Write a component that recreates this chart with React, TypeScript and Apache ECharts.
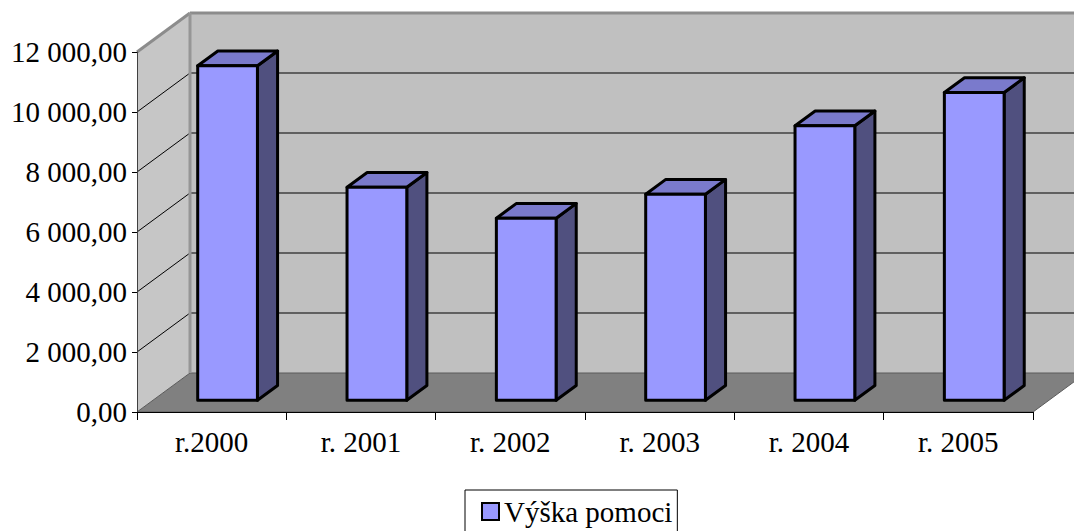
import React, { useEffect, useRef } from "react";
import * as echarts from "echarts";

const categories = ["r.2000", "r. 2001", "r. 2002", "r. 2003", "r. 2004", "r. 2005"];
const values = [11150, 7100, 6070, 6870, 9150, 10260];
const yTicks = [0, 2000, 4000, 6000, 8000, 10000, 12000];
const seriesName = "Výška pomoci";

const DX = 53;
const DY = -39;
const FONT = "Liberation Serif";

function fmt(v: number): string {
  const s = Math.round(v).toString();
  let out = "";
  for (let i = 0; i < s.length; i++) {
    const fromRight = s.length - i;
    out += s[i];
    if (fromRight > 1 && (fromRight - 1) % 3 === 0) out += " ";
  }
  return out + ",00";
}

export default function App() {
  const ref = useRef<HTMLDivElement>(null);
  useEffect(() => {
    document.body.style.margin = "0";
    document.body.style.background = "#ffffff";
    const chart = echarts.init(ref.current!, null, { renderer: "svg" });
    const yMax = yTicks[yTicks.length - 1];
    chart.setOption({
      animation: false,
      backgroundColor: "#ffffff",
      textStyle: { fontFamily: FONT },
      grid: { left: 137, top: 52, width: 896, height: 360 },
      legend: {
        left: 465,
        top: 490,
        padding: [7, 5, 7, 16],
        borderColor: "#000",
        borderWidth: 1,
        itemWidth: 17,
        itemHeight: 17,
        textStyle: { fontFamily: FONT, fontSize: 29, color: "#000" },
        data: [
          {
            name: seriesName,
            icon: "rect",
            itemStyle: { color: "#9999ff", borderColor: "#000", borderWidth: 2 },
          },
        ],
      },
      xAxis: {
        type: "category",
        data: categories,
        z: 5,
        axisLine: { show: true, lineStyle: { color: "#000", width: 1 } },
        axisTick: { show: true, length: 8, lineStyle: { color: "#000" } },
        axisLabel: { fontFamily: FONT, fontSize: 29, color: "#000", margin: 15 },
        splitLine: { show: false },
      },
      yAxis: {
        type: "value",
        min: 0,
        max: yMax,
        interval: 2000,
        z: 5,
        axisLine: { show: true, lineStyle: { color: "#404040", width: 1 } },
        axisTick: { show: true, length: 5, lineStyle: { color: "#000" } },
        axisLabel: {
          fontFamily: FONT,
          fontSize: 29,
          color: "#000",
          margin: 10,
          formatter: (v: number) => fmt(v),
        },
        splitLine: { show: false },
      },
      series: [
        {
          type: "custom",
          name: "walls",
          z: 1,
          clip: false,
          silent: true,
          data: [[0, 0]],
          encode: { x: 0, y: 1 },
          renderItem: (params: any, api: any) => {
            const cs = params.coordSys;
            const gx = cs.x, gy = cs.y, gw = cs.width, gh = cs.height;
            const children: any[] = [];
            children.push({
              type: "rect",
              shape: { x: gx + DX, y: gy + DY, width: gw + 10, height: gh },
              style: { fill: "#c0c0c0" },
            });
            children.push({
              type: "polygon",
              shape: { points: [[gx, gy], [gx + DX, gy + DY], [gx + DX, gy + gh + DY], [gx, gy + gh]] },
              style: { fill: "#c6c6c6" },
            });
            children.push({
              type: "polygon",
              shape: {
                points: [[gx, gy + gh], [gx + gw, gy + gh], [gx + gw + DX, gy + gh + DY], [gx + DX, gy + gh + DY]],
              },
              style: { fill: "#808080", stroke: "#5a5a5a", lineWidth: 1 },
            });
            yTicks.forEach((v) => {
              if (v === 0 || v === yMax) return;
              const y = api.coord([0, v])[1];
              children.push({
                type: "line",
                shape: { x1: gx + DX, y1: y + DY, x2: gx + gw + DX + 10, y2: y + DY },
                style: { stroke: "#000", lineWidth: 1 },
              });
              children.push({
                type: "line",
                shape: { x1: gx, y1: y, x2: gx + DX, y2: y + DY },
                style: { stroke: "#000", lineWidth: 1 },
              });
            });
            children.push({
              type: "line",
              shape: { x1: gx + DX, y1: gy + DY, x2: gx + gw + DX + 10, y2: gy + DY },
              style: { stroke: "#8c8c8c", lineWidth: 3 },
            });
            children.push({
              type: "line",
              shape: { x1: gx, y1: gy, x2: gx + DX, y2: gy + DY },
              style: { stroke: "#8c8c8c", lineWidth: 3 },
            });
            children.push({
              type: "line",
              shape: { x1: gx + DX, y1: gy + DY, x2: gx + DX, y2: gy + gh + DY },
              style: { stroke: "#969696", lineWidth: 3 },
            });
            return { type: "group", children };
          },
        },
        {
          type: "custom",
          name: seriesName,
          z: 10,
          clip: false,
          itemStyle: { color: "#9999ff" },
          data: values.map((v, i) => [i, v]),
          encode: { x: 0, y: 1 },
          renderItem: (params: any, api: any) => {
            const idx = api.value(0);
            const val = api.value(1);
            const base = api.coord([idx, 0]);
            const top = api.coord([idx, val]);
            const band = api.size([1, 0])[0];
            const w = band * 0.4;
            const fx = DX * 0.3, fy = DY * 0.3;
            const dx = DX * 0.38, dy = DY * 0.38;
            const x0 = base[0] - w / 2 + fx;
            const x1 = x0 + w;
            const yb = base[1] + fy;
            const yt = top[1] + fy;
            const stroke = { stroke: "#000", lineWidth: 3, lineJoin: "round" };
            return {
              type: "group",
              children: [
                {
                  type: "polygon",
                  shape: { points: [[x1, yt], [x1, yb], [x1 + dx, yb + dy], [x1 + dx, yt + dy]] },
                  style: { fill: "#50507f", ...stroke },
                },
                {
                  type: "polygon",
                  shape: { points: [[x0, yt], [x1, yt], [x1 + dx, yt + dy], [x0 + dx, yt + dy]] },
                  style: { fill: "#7a7acc", ...stroke },
                },
                {
                  type: "rect",
                  shape: { x: x0, y: yt, width: w, height: yb - yt },
                  style: { fill: "#9999ff", ...stroke },
                },
              ],
            };
          },
        },
      ],
    });
    return () => chart.dispose();
  }, []);
  return <div ref={ref} style={{ width: 1074, height: 531 }} />;
}
